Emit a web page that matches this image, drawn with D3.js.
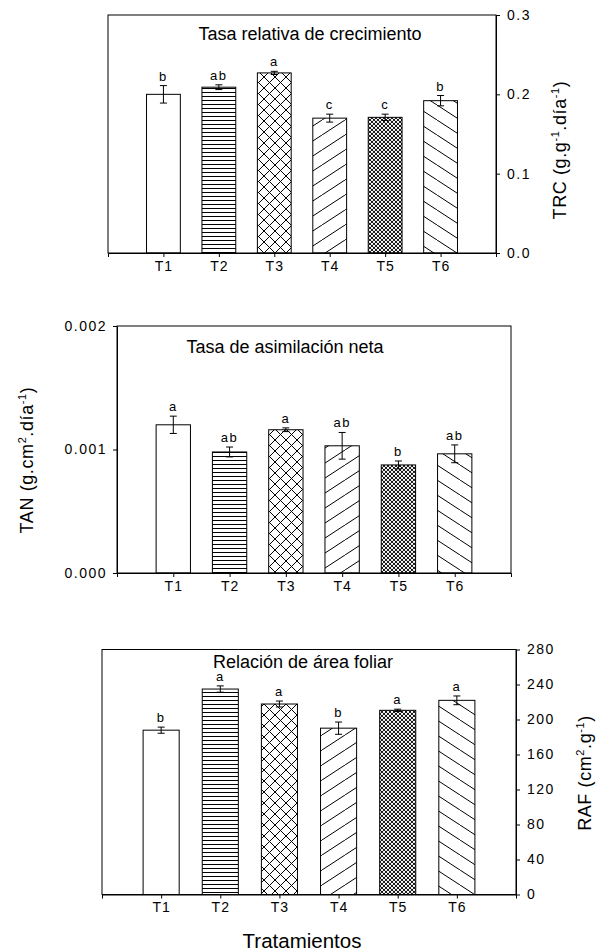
<!DOCTYPE html>
<html>
<head>
<meta charset="utf-8">
<script src="https://cdn.jsdelivr.net/npm/d3@7"></script>
<style>
  body { margin: 0; background: #fff; }
  svg { font-family: Arial, "Liberation Sans", sans-serif; }
  .tick text { font-size: 14px; letter-spacing: 1.5px; fill: #000; }
  .xaxis .tick text { letter-spacing: 1px; }
  .tick line, .domain { stroke: #000; }
</style>
</head>
<body>
<svg id="chart" width="603" height="951"></svg>
<script>
// treatments
const categories = ["T1", "T2", "T3", "T4", "T5", "T6"];

// Tasa relativa de crecimiento (g.g-1.dia-1)
const trcMean = [0.200, 0.209, 0.227, 0.170, 0.171, 0.192];
const trcErr = [0.011, 0.003, 0.002, 0.005, 0.004, 0.0065];
const trcLetters = ["b", "ab", "a", "c", "c", "b"];
const trcTicks = [0, 0.1, 0.2, 0.3];

// Tasa de asimilacion neta (g.cm2.dia-1)
const tanMean = [0.00120, 0.00098, 0.00116, 0.00103, 0.000875, 0.000965];
const tanErr = [0.00007, 0.00004, 0.000015, 0.000108, 0.000032, 0.000072];
const tanLetters = ["a", "ab", "a", "ab", "b", "ab"];
const tanTicks = [0, 0.001, 0.002];

// Relacion de area foliar (cm2.g-1)
const rafMean = [187.8, 234.8, 217.7, 190.1, 210.5, 221.9];
const rafErr = [3.5, 3.6, 3.4, 7, 1.3, 5];
const rafLetters = ["b", "a", "a", "b", "a", "a"];
const rafTicks = [0, 40, 80, 120, 160, 200, 240, 280];

const svg = d3.select("#chart");
const defs = svg.append("defs");

// one fill pattern per treatment
function makePattern(id, w, h) {
    const p = defs.append("pattern")
        .attr("id", id)
        .attr("patternUnits", "userSpaceOnUse")
        .attr("width", w)
        .attr("height", h);
    p.append("rect").attr("width", w).attr("height", h).attr("fill", "#fff");
    return p;
}

makePattern("pT1", 8, 8);

makePattern("pT2", 4, 4)
    .append("path").attr("d", "M0,0.5H4").attr("stroke", "#000").attr("stroke-width", 1);

makePattern("pT3", 11, 11)
    .append("path").attr("d", "M0,0L11,11M11,0L0,11")
    .attr("stroke", "#000").attr("stroke-width", 1);

makePattern("pT4", 23, 15)
    .append("path").attr("d", "M-23,15L0,0M0,15L23,0M23,15L46,0")
    .attr("stroke", "#000").attr("stroke-width", 1);

const p5 = makePattern("pT5", 4, 4);
p5.select("rect").attr("fill", "#000");
[[0, 0], [4, 0], [0, 4], [4, 4], [2, 2]].forEach(c => {
    p5.append("circle").attr("cx", c[0]).attr("cy", c[1]).attr("r", 1.15).attr("fill", "#fff");
});

makePattern("pT6", 23, 15)
    .append("path").attr("d", "M-23,0L0,15M0,0L23,15M23,0L46,15")
    .attr("stroke", "#000").attr("stroke-width", 1);

/** One framed bar panel with error bars and letters. */
class BarPanel {
    constructor(box, yMax, side) {
        this.box = box;
        this.side = side;
        this.x = d3.scaleLinear().domain([0, 7]).range([box.left, box.right]);
        this.y = d3.scaleLinear().domain([0, yMax]).range([box.bottom, box.top]);
        this.g = svg.append("g");
    }

    draw(means, errs, letters, ticks, fmt, title, label) {
        const x = this.x, y = this.y, g = this.g, box = this.box;
        const bw = (x(1) - x(0)) * 0.61;
        const data = categories.map((c, i) => ({c: c, i: i + 1, m: means[i], e: errs[i], l: letters[i]}));

        // bars
        g.selectAll(".bar")
            .data(data)
          .enter().append("rect")
            .attr("class", "bar")
            .attr("x", d => x(d.i) - bw / 2)
            .attr("y", d => y(d.m))
            .attr("width", bw)
            .attr("height", d => y(0) - y(d.m))
            .attr("fill", d => "url(#p" + d.c + ")")
            .attr("stroke", "#000")
            .attr("stroke-width", 1);

        // error bars
        g.selectAll(".err")
            .data(data)
          .enter().append("path")
            .attr("class", "err")
            .attr("fill", "none")
            .attr("stroke", "#000")
            .attr("stroke-width", 1)
            .attr("d", d => {
                const cx = x(d.i), t = y(d.m + d.e), b = y(d.m - d.e);
                return "M" + (cx - 3.5) + "," + t + "H" + (cx + 3.5)
                    + "M" + cx + "," + t + "V" + b
                    + "M" + (cx - 3.5) + "," + b + "H" + (cx + 3.5);
            });

        // letters
        g.selectAll(".sig")
            .data(data)
          .enter().append("text")
            .attr("class", "sig")
            .attr("x", d => x(d.i))
            .attr("y", d => y(d.m + d.e) - 5)
            .attr("text-anchor", "middle")
            .style("font-size", "13px")
            .style("letter-spacing", "1.5px")
            .text(d => d.l);

        // frame
        g.append("rect")
            .attr("x", box.left).attr("y", box.top)
            .attr("width", box.right - box.left)
            .attr("height", box.bottom - box.top)
            .attr("fill", "none")
            .attr("stroke", "#000");

        // x axis
        g.append("g")
            .attr("class", "xaxis")
            .attr("transform", "translate(0," + box.bottom + ")")
            .call(d3.axisBottom(x)
                .tickValues(data.map(d => d.i))
                .tickFormat((v, k) => categories[k])
                .tickSize(4)
                .tickSizeOuter(4)
                .tickPadding(4));

        // y axis
        const yAxis = (this.side === "right" ? d3.axisRight(y) : d3.axisLeft(y))
            .tickValues(ticks)
            .tickFormat(d3.format(fmt))
            .tickSize(4)
            .tickSizeOuter(0)
            .tickPadding(this.side === "right" ? 7 : 6);
        g.append("g")
            .attr("transform", "translate(" + (this.side === "right" ? box.right : box.left) + ",0)")
            .call(yAxis);

        g.selectAll(".tick text").attr("fill", "#000");

        // title
        g.append("text")
            .attr("x", title.x)
            .attr("y", title.y)
            .attr("text-anchor", "middle")
            .style("font-size", "18px")
            .text(title.text);

        // axis label with superscripts
        const lab = g.append("text")
            .attr("transform", "translate(" + label.x + "," + label.y + ") rotate(-90)")
            .attr("text-anchor", "middle")
            .attr("dy", "0.35em")
            .style("font-size", "18px")
            .style("letter-spacing", "0.6px");
        let up = false;
        label.parts.forEach(p => {
            const sup = p[1] === "sup";
            const ts = lab.append("tspan").text(p[0]);
            if (sup) {
                ts.attr("dy", -7).style("font-size", "11px");
                up = true;
            } else if (up) {
                ts.attr("dy", 7);
                up = false;
            }
        });
    }
}

const trc = new BarPanel({left: 108, right: 496, top: 15, bottom: 253}, 0.3, "right");
trc.draw(trcMean, trcErr, trcLetters, trcTicks, ".1f",
    {text: "Tasa relativa de crecimiento", x: 310, y: 40},
    {x: 560, y: 150, parts: [["TRC (g.g", ""], ["-1", "sup"], [".día", ""], ["-1", "sup"], [")", ""]]});

const tan = new BarPanel({left: 117, right: 511, top: 326, bottom: 573}, 0.002, "left");
tan.draw(tanMean, tanErr, tanLetters, tanTicks, ".3f",
    {text: "Tasa de asimilación neta", x: 285, y: 353},
    {x: 27, y: 460, parts: [["TAN (g.cm", ""], ["2", "sup"], [".día", ""], ["-1", "sup"], [")", ""]]});

const raf = new BarPanel({left: 102, right: 516, top: 649.5, bottom: 894.5}, 280, "right");
raf.draw(rafMean, rafErr, rafLetters, rafTicks, "d",
    {text: "Relación de área foliar", x: 303, y: 668},
    {x: 585, y: 773, parts: [["RAF (cm", ""], ["2", "sup"], [".g", ""], ["-1", "sup"], [")", ""]]});

svg.append("text")
    .attr("x", 302)
    .attr("y", 948)
    .attr("text-anchor", "middle")
    .style("font-size", "20.5px")
    .text("Tratamientos");
</script>
</body>
</html>
